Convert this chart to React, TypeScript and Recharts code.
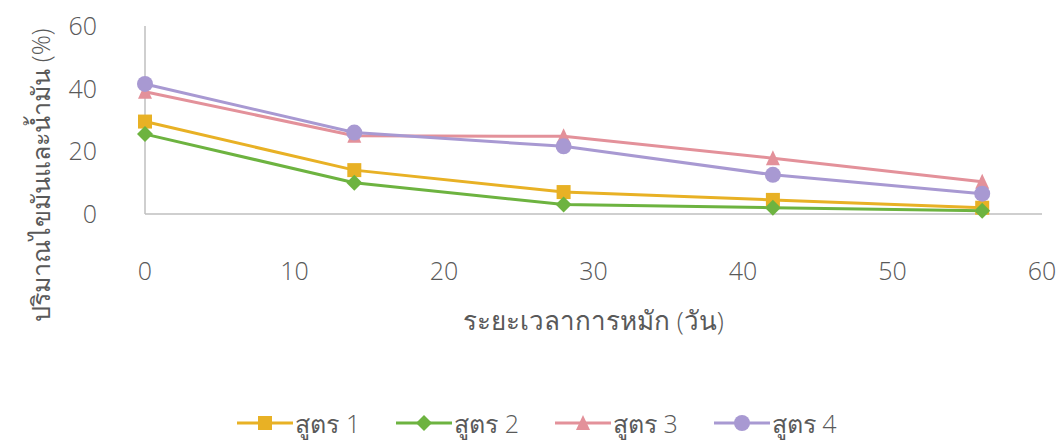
import React from 'react';
import { LineChart, Line, XAxis, YAxis, Legend, Label } from 'recharts';

const days = [0, 14, 28, 42, 56];
const formula1 = [29.5, 14, 7, 4.5, 2];
const formula2 = [25.5, 10, 3, 2, 1];
const formula3 = [39, 25, 24.8, 17.8, 10.3];
const formula4 = [41.5, 26, 21.6, 12.5, 6.5];
const xTicks = [0, 10, 20, 30, 40, 50, 60];
const yTicks = [0, 20, 40, 60];

const data = days.map((d, i) => ({
  day: d,
  s1: formula1[i],
  s2: formula2[i],
  s3: formula3[i],
  s4: formula4[i],
}));

const FONT = '"Open Sans", "Noto Sans", sans-serif';
const TEXT = '#595959';

type Shape = 'square' | 'diamond' | 'triangle' | 'circle';

const series: { key: string; name: string; color: string; shape: Shape }[] = [
  { key: 's1', name: 'สูตร 1', color: '#E8B125', shape: 'square' },
  { key: 's2', name: 'สูตร 2', color: '#6DB340', shape: 'diamond' },
  { key: 's3', name: 'สูตร 3', color: '#E3919A', shape: 'triangle' },
  { key: 's4', name: 'สูตร 4', color: '#A899D2', shape: 'circle' },
];

const Marker = ({ cx, cy, shape, color, r = 7 }: any) => {
  if (cx == null || cy == null) return null;
  if (shape === 'square') return <rect x={cx - r} y={cy - r} width={r * 2} height={r * 2} fill={color} />;
  if (shape === 'diamond')
    return <polygon points={`${cx},${cy - r - 1} ${cx + r + 1},${cy} ${cx},${cy + r + 1} ${cx - r - 1},${cy}`} fill={color} />;
  if (shape === 'triangle')
    return <polygon points={`${cx},${cy - r - 1} ${cx + r},${cy + r} ${cx - r},${cy + r}`} fill={color} />;
  return <circle cx={cx} cy={cy} r={r + 1} fill={color} />;
};

const YTitle = () => {
  const x = 40;
  const y = 175;
  return (
    <text x={x} y={y} transform={`rotate(-90, ${x}, ${y})`} textAnchor="middle" dominantBaseline="central"
      fill={TEXT} fontSize={25} fontWeight={300} fontFamily={FONT}>
      ปริมาณไขมันและน้ำมัน (%)
    </text>
  );
};

const LegendContent = () => (
  <div style={{ display: 'flex', justifyContent: 'center', gap: 36, fontFamily: FONT, fontSize: 25, fontWeight: 300, color: TEXT, lineHeight: '34px', paddingLeft: 32 }}>
    {series.map((s) => (
      <div key={s.key} style={{ display: 'flex', alignItems: 'center' }}>
        <svg width={56} height={26}>
          <line x1={0} y1={13} x2={56} y2={13} stroke={s.color} strokeWidth={3} />
          <Marker cx={28} cy={13} shape={s.shape} color={s.color} r={7} />
        </svg>
        <span style={{ marginLeft: 2 }}>{s.name}</span>
      </div>
    ))}
  </div>
);

const tickStyle = { fill: TEXT, fontSize: 25, fontWeight: 300, fontFamily: FONT };

export default function App() {
  return (
    <div style={{ position: 'absolute', left: 0, top: 0, background: '#fff' }}>
      <LineChart width={1059} height={442} data={data} margin={{ top: 26, right: 17, left: 0, bottom: 0 }}>
        <XAxis
          dataKey="day"
          type="number"
          domain={[0, 60]}
          ticks={xTicks}
          height={186}
          tickLine={false}
          axisLine={{ stroke: '#BFBFBF', strokeWidth: 1.5 }}
          tick={tickStyle}
          tickMargin={42}
        >
          <Label value="ระยะเวลาการหมัก (วัน)" position="insideTop" offset={98}
            style={{ fill: TEXT, fontSize: 26, fontWeight: 300, fontFamily: FONT }} />
        </XAxis>
        <YAxis
          type="number"
          domain={[0, 60]}
          ticks={yTicks}
          width={145}
          tickLine={false}
          axisLine={{ stroke: '#BFBFBF', strokeWidth: 1.5 }}
          tick={tickStyle}
          tickMargin={42}
        >
          <Label content={<YTitle />} />
        </YAxis>
        <Legend verticalAlign="bottom" height={42} wrapperStyle={{ bottom: -6 }} content={<LegendContent />} />
        {series.map((s) => (
          <Line
            key={s.key}
            dataKey={s.key}
            name={s.name}
            stroke={s.color}
            strokeWidth={3}
            isAnimationActive={false}
            dot={(p: any) => <Marker key={`${s.key}-${p.index}`} cx={p.cx} cy={p.cy} shape={s.shape} color={s.color} />}
          />
        ))}
      </LineChart>
    </div>
  );
}
